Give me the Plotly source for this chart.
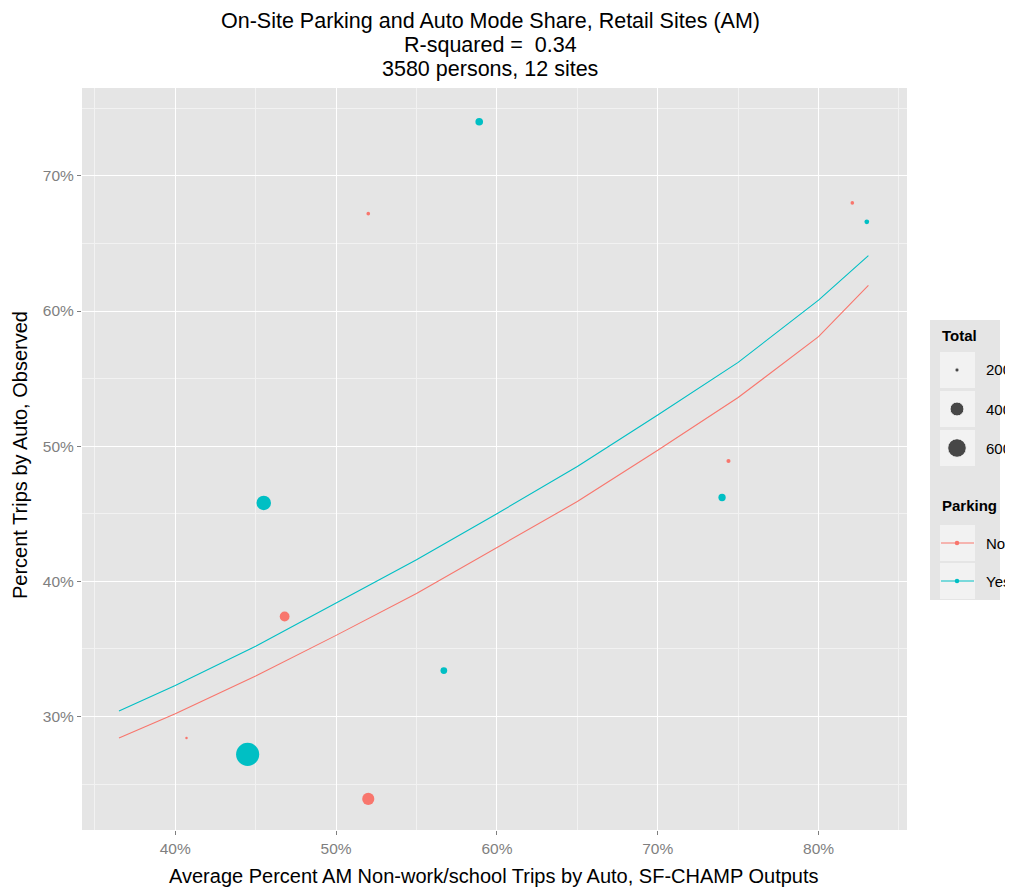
import plotly.graph_objects as go
import math

# ---------------- data ----------------
site_parking = ["Yes", "No", "No", "Yes", "No", "Yes", "Yes", "No", "Yes", "Yes", "No", "No"]
site_model_pct = [58.9, 52.0, 82.1, 83.0, 74.4, 74.0, 45.5, 46.8, 56.7, 44.5, 52.0, 40.7]
site_observed_pct = [74.0, 67.2, 68.0, 66.6, 48.9, 46.2, 45.8, 37.4, 33.4, 27.2, 23.9, 28.4]
site_total = [236, 197, 197, 203, 199, 231, 420, 279, 223, 860, 340, 195]

fit_x = [36.5, 40, 45, 50, 55, 60, 65, 70, 75, 80, 83.1]
fit_yes = [30.4, 32.3, 35.2, 38.4, 41.6, 45.0, 48.5, 52.3, 56.2, 60.8, 64.1]
fit_no = [28.4, 30.2, 33.0, 36.0, 39.1, 42.5, 45.9, 49.7, 53.6, 58.1, 61.9]

size_breaks = [200, 400, 600]
x_ticks = [40, 50, 60, 70, 80]
y_ticks = [30, 40, 50, 60, 70]

COL = {"No": "#F8766D", "Yes": "#00BFC4"}
FONT = "Liberation Sans, Arial, sans-serif"

# the page puts the figure 8px in from the top-left corner
OFF = 8
W, H = 1013 - OFF, 890 - OFF


def px(x):
    return (x - OFF) / W


def py(y):
    return 1 - (y - OFF) / H


def diam(v):
    return 2.5 + 0.8 * math.sqrt(max(v - 195, 0))


# panel placement in reference pixels
PL, PR, PT, PB = 82, 907, 88, 830

fig = go.Figure()

for grp, fy in (("No", fit_no), ("Yes", fit_yes)):
    fig.add_trace(go.Scatter(x=fit_x, y=fy, mode="lines",
                             line=dict(color=COL[grp], width=1.1),
                             showlegend=False, hoverinfo="skip"))

for grp in ("No", "Yes"):
    idx = [i for i, p in enumerate(site_parking) if p == grp]
    fig.add_trace(go.Scatter(
        x=[site_model_pct[i] for i in idx],
        y=[site_observed_pct[i] for i in idx],
        mode="markers",
        marker=dict(color=COL[grp], size=[diam(site_total[i]) for i in idx],
                    line=dict(width=0), opacity=1),
        showlegend=False))

# ---------------- legend (drawn on an auxiliary pixel axis) ----------------
LX0, LX1, LY0, LY1 = 930, 1000, 320, 600
key_cx = 957
size_key_y = [370, 409, 448]
park_key_y = [543, 581]

shapes = []
for ky in size_key_y + park_key_y:
    shapes.append(dict(type="rect", xref="x2", yref="y2", x0=940, x1=975,
                       y0=ky - 18, y1=ky + 18, fillcolor="#F2F2F2",
                       line=dict(width=0), layer="below"))

fig.add_trace(go.Scatter(x=[key_cx] * 3, y=size_key_y, mode="markers",
                         marker=dict(color="black", size=[diam(v) for v in size_breaks]),
                         xaxis="x2", yaxis="y2", showlegend=False, hoverinfo="skip"))
for grp, ky in zip(("No", "Yes"), park_key_y):
    fig.add_trace(go.Scatter(x=[941, key_cx, 974], y=[ky] * 3, mode="lines",
                             line=dict(color=COL[grp], width=1.1),
                             xaxis="x2", yaxis="y2", showlegend=False, hoverinfo="skip"))
    fig.add_trace(go.Scatter(x=[key_cx], y=[ky], mode="markers",
                             marker=dict(color=COL[grp], size=4.5),
                             xaxis="x2", yaxis="y2", showlegend=False, hoverinfo="skip"))

annotations = []


def ann(text, x, y, size, xanchor="left", bold=False, angle=0):
    annotations.append(dict(text=f"<b>{text}</b>" if bold else text,
                            x=px(x), y=py(y), xref="paper", yref="paper",
                            xanchor=xanchor, yanchor="middle", showarrow=False,
                            textangle=angle,
                            font=dict(size=size, color="black", family=FONT)))


ann("Total", 940, 335, 15, bold=True)
for v, ky in zip(size_breaks, size_key_y):
    ann(str(v), 984, ky, 15)
ann("Parking", 940, 506, 15, bold=True)
for grp, ky in zip(("No", "Yes"), park_key_y):
    ann(grp, 984, ky, 15)

# titles
ann("On-Site Parking and Auto Mode Share, Retail Sites (AM)", 490, 21, 21.5, xanchor="center")
ann("R-squared =  0.34", 490, 45, 21.5, xanchor="center")
ann("3580 persons, 12 sites", 490, 69, 21.5, xanchor="center")
ann("Average Percent AM Non-work/school Trips by Auto, SF-CHAMP Outputs", 494, 876, 20,
    xanchor="center")
ann("Percent Trips by Auto, Observed", 20, 455, 20, xanchor="center", angle=-90)

axis_common = dict(showgrid=True, gridcolor="white", gridwidth=1.2, zeroline=False,
                   ticks="outside", ticklen=4, tickcolor="#7F7F7F",
                   tickfont=dict(size=15.5, color="#7F7F7F", family=FONT),
                   showline=False, automargin=False, fixedrange=True)

fig.update_layout(
    width=W, height=H,
    margin=dict(l=0, r=0, t=0, b=0),
    paper_bgcolor="white", plot_bgcolor="#E5E5E5",
    font=dict(family=FONT),
    showlegend=False,
    xaxis=dict(domain=[px(PL), px(PR)], range=[34.2, 85.5], tickvals=x_ticks,
               ticktext=[f"{t}%" for t in x_ticks],
               minor=dict(dtick=5, tick0=35, showgrid=True, gridcolor="#F2F2F2", gridwidth=0.8),
               **axis_common),
    yaxis=dict(domain=[py(PB), py(PT)], range=[21.6, 76.5], tickvals=y_ticks,
               ticktext=[f"{t}%" for t in y_ticks],
               minor=dict(dtick=5, tick0=25, showgrid=True, gridcolor="#F2F2F2", gridwidth=0.8),
               **axis_common),
    xaxis2=dict(domain=[px(LX0), px(LX1)], range=[LX0, LX1], visible=False, fixedrange=True),
    yaxis2=dict(domain=[py(LY1), py(LY0)], range=[LY1, LY0], visible=False, fixedrange=True,
                showgrid=False),
    shapes=shapes,
    annotations=annotations,
)

fig.write_html("out.html")
